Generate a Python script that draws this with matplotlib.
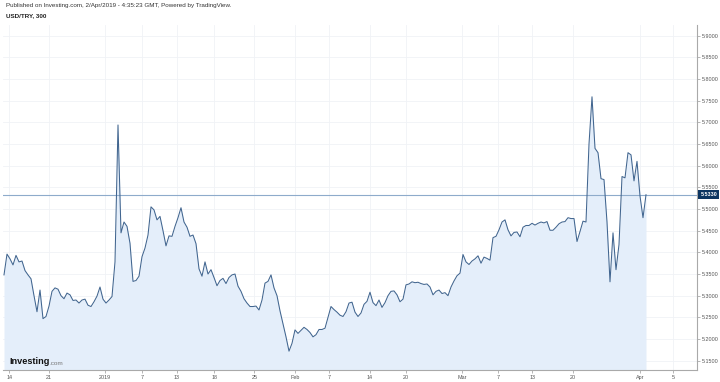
import matplotlib
matplotlib.use("Agg")
import matplotlib.pyplot as plt
import numpy as np

plt.rcParams["font.family"] = ["Liberation Sans", "DejaVu Sans"]

# USD/TRY, 300-minute bars, closes (one value per ~3 px)
prices = [
    5.348, 5.396, 5.385, 5.371, 5.393, 5.378, 5.380, 5.358, 5.348, 5.339,
    5.300, 5.263, 5.313, 5.247, 5.252, 5.276, 5.310, 5.318, 5.315, 5.300,
    5.293, 5.306, 5.302, 5.289, 5.290, 5.283, 5.290, 5.292, 5.278, 5.275,
    5.286, 5.299, 5.320, 5.292, 5.283, 5.290, 5.298, 5.378, 5.694, 5.445,
    5.470, 5.460, 5.421, 5.333, 5.335, 5.345, 5.390, 5.410, 5.440, 5.505,
    5.498, 5.475, 5.483, 5.450, 5.415, 5.438, 5.437, 5.460, 5.480, 5.503,
    5.470, 5.458, 5.437, 5.440, 5.420, 5.362, 5.345, 5.378, 5.350, 5.360,
    5.342, 5.323, 5.335, 5.340, 5.328, 5.342, 5.348, 5.350, 5.322, 5.310,
    5.293, 5.283, 5.275, 5.275, 5.276, 5.267, 5.290, 5.329, 5.333, 5.348,
    5.318, 5.300, 5.265, 5.235, 5.205, 5.172, 5.190, 5.221, 5.213, 5.220,
    5.227, 5.222, 5.215, 5.205, 5.210, 5.222, 5.222, 5.225, 5.250, 5.275,
    5.268, 5.262, 5.255, 5.252, 5.263, 5.283, 5.285, 5.262, 5.252, 5.260,
    5.280, 5.287, 5.308, 5.284, 5.277, 5.290, 5.273, 5.284, 5.300, 5.310,
    5.311, 5.302, 5.286, 5.292, 5.325, 5.327, 5.332, 5.330, 5.331, 5.328,
    5.326, 5.327, 5.320, 5.302, 5.310, 5.313, 5.305, 5.307, 5.300, 5.320,
    5.334, 5.346, 5.352, 5.395, 5.378, 5.372, 5.380, 5.385, 5.392, 5.375,
    5.389, 5.386, 5.382, 5.434, 5.437, 5.452, 5.470, 5.475, 5.452, 5.438,
    5.446, 5.447, 5.436, 5.458, 5.462, 5.462, 5.467, 5.463, 5.467, 5.470,
    5.468, 5.471, 5.451, 5.451, 5.458, 5.466, 5.470, 5.471, 5.480, 5.478,
    5.478, 5.425, 5.448, 5.472, 5.470, 5.650, 5.759, 5.640, 5.630, 5.570,
    5.568, 5.470, 5.332, 5.445, 5.360, 5.418, 5.575, 5.572, 5.630, 5.625,
    5.565, 5.610, 5.530, 5.480, 5.533,
]
last_price = 5.5330

tick_pos = [1.83, 15, 33.67, 45.9, 57.57, 70.1, 83.43, 97, 108.33, 122,
            133.9, 152.77, 164.77, 176.1, 189.77, 212, 223]
tick_labels = ["14", "21", "2019", "7", "13", "18", "25", "Feb", "7", "14",
               "20", "Mar", "7", "13", "20", "Apr", "5"]
y_ticks = [5.15, 5.20, 5.25, 5.30, 5.35, 5.40, 5.45, 5.50, 5.55, 5.60,
           5.65, 5.70, 5.75, 5.80, 5.85, 5.90]

line_color = "#41658f"
fill_color = "#e4eefa"
grid_color = "#f0f2f6"
axis_color = "#a9a9a9"

W, H = 720, 382
fig = plt.figure(figsize=(W / 100, H / 100), dpi=100)
ax = fig.add_axes([3 / W, (H - 370) / H, (697 - 3) / W, (370 - 25) / H])

x = np.arange(len(prices))
ax.fill_between(x, prices, 5.0, color=fill_color, linewidth=0, zorder=1)
ax.plot(x, prices, color=line_color, linewidth=0.75, zorder=3)
ax.axhline(last_price, color="#8eabcb", linewidth=0.8, zorder=2)

ax.set_xlim(-1 / 3, 231)
ax.set_ylim(5.1285, 5.9247)

ax.set_xticks(tick_pos)
ax.set_xticklabels(tick_labels)
ax.set_yticks(y_ticks)
ax.set_yticklabels([f"{v:.4f}" for v in y_ticks])
ax.yaxis.tick_right()
ax.tick_params(axis="both", labelsize=3.9, colors=axis_color, length=2,
               width=0.6, pad=1.5, labelcolor="#555555")
ax.grid(True, color=grid_color, linewidth=0.6, zorder=0)
ax.set_axisbelow(True)

for side in ("top", "left"):
    ax.spines[side].set_visible(False)
for side in ("right", "bottom"):
    ax.spines[side].set_color(axis_color)
    ax.spines[side].set_linewidth(0.8)

# last price marker on the right axis
ax.annotate(f"{last_price:.4f}", xy=(1.0, last_price),
            xycoords=("axes fraction", "data"),
            xytext=(2.5, 0), textcoords="offset points",
            ha="left", va="center", fontsize=3.9, color="white",
            fontweight="bold",
            bbox=dict(boxstyle="square,pad=0.4", facecolor="#0c3561",
                      edgecolor="none"),
            annotation_clip=False, zorder=5)

# header
fig.text(6 / W, 1 - 6 / H,
         "Published on Investing.com, 2/Apr/2019 - 4:35:23 GMT, Powered by TradingView.",
         fontsize=4.5, color="#333333", ha="left", va="center")
fig.text(6 / W, 1 - 16 / H, "USD/TRY, 300", fontsize=4.5, color="#222222",
         fontweight="bold", ha="left", va="center")

# watermark logo
logo = ax.text(6 / 694, 6 / 345, "Investing", transform=ax.transAxes,
               fontsize=6.6, fontweight="bold", color="#111111",
               ha="left", va="baseline", zorder=4)
fig.canvas.draw()
bb = logo.get_window_extent()
fig.text((bb.x1 + 0.5) / W, bb.y0 / H + 0.0005, ".com", fontsize=4.6,
         color="#777777", ha="left", va="bottom")

fig.savefig("out.png", dpi=100)
